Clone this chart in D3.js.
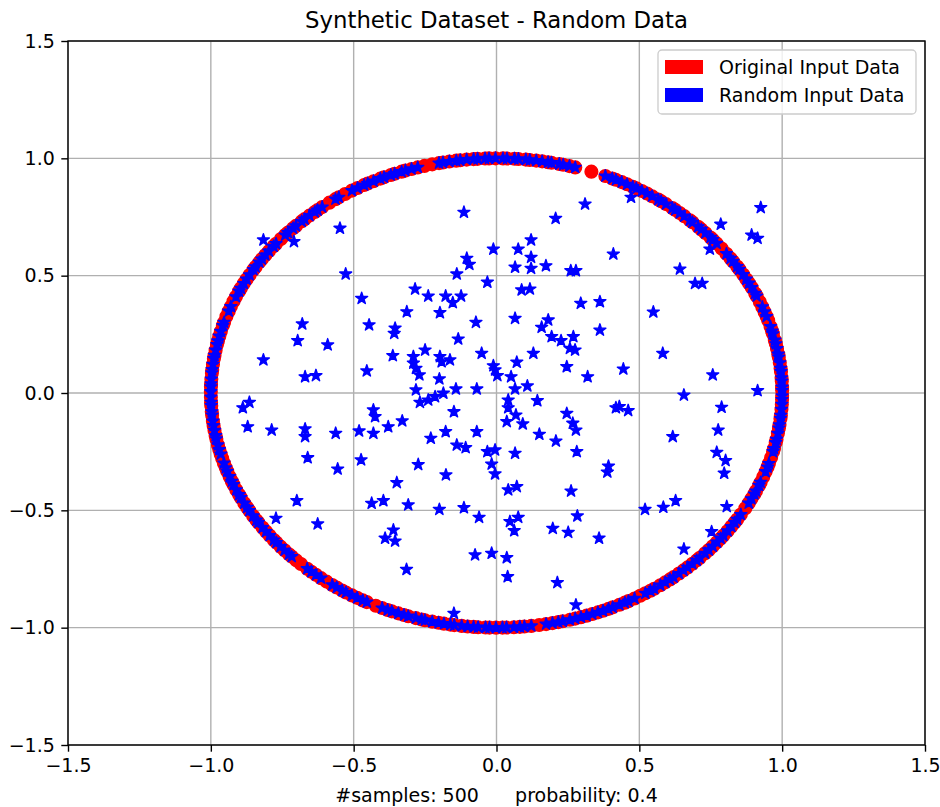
<!DOCTYPE html>
<html><head><meta charset="utf-8">
<script src="https://cdn.jsdelivr.net/npm/d3@7/dist/d3.min.js"></script>
<style>body{margin:0;background:#fff} text{font-family:"DejaVu Sans",sans-serif}</style>
</head><body>
<svg id="chart" width="940" height="807"></svg>
<script>
const xTicks = [-1.5, -1.0, -0.5, 0.0, 0.5, 1.0, 1.5];
const yTicks = [-1.5, -1.0, -0.5, 0.0, 0.5, 1.0, 1.5];
const titleText = "Synthetic Dataset - Random Data";
const xLabelText = "#samples: 500      probability: 0.4";
const legendLabels = ["Original Input Data", "Random Input Data"];

// angles (degrees) of unit-circle points kept unchanged in the random data (blue stars on the ring)
const ringStarAngles = [
0.6,1.4,2.9,3.7,5.2,6.0,7.4,8.8,9.5,
10.9,12.1,13.0,14.6,15.3,16.4,19.0,
20.2,21.5,24.4,25.1,26.7,27.9,29.0,
30.3,31.8,32.6,34.1,35.0,36.4,39.6,
40.8,41.5,43.0,44.2,45.1,46.7,47.4,48.9,
50.1,51.3,52.0,53.6,54.8,55.5,57.0,58.2,59.4,
60.7,61.5,62.8,64.0,65.3,66.1,67.6,
74.0,75.2,76.5,77.3,78.9,79.6,
80.8,82.0,83.3,84.1,85.6,86.4,87.9,88.7,
90.2,91.5,92.3,93.8,94.6,96.0,97.3,98.1,99.5,
100.8,101.6,106.0,107.3,108.6,109.4,
110.9,111.7,113.2,114.0,115.5,116.8,117.6,119.1,
120.4,123.5,124.3,127.6,128.8,129.5,
130.9,132.2,133.0,134.6,135.4,136.9,137.7,140.5,
141.3,142.8,144.0,145.2,146.1,147.5,148.3,149.8,
151.0,152.2,153.5,154.3,155.8,158.4,159.6,
162.5,163.3,164.8,166.0,167.2,168.1,169.5,
170.8,171.6,173.0,174.3,175.1,176.6,177.8,178.5,179.7,
181.0,182.3,183.1,184.6,185.4,186.9,188.0,189.2,
190.5,191.3,192.8,194.0,195.1,197.4,198.6,199.5,
200.9,202.1,203.0,204.4,205.7,206.5,208.0,209.2,
210.1,211.6,212.8,213.5,215.0,216.2,217.4,218.8,219.6,
220.9,222.1,223.4,224.2,228.5,229.6,
230.8,232.1,234.9,236.0,237.3,238.2,239.6,
240.8,242.1,243.0,246.4,247.6,248.5,249.9,
251.1,252.0,253.6,254.8,255.5,257.0,258.3,259.4,
260.7,261.5,263.0,264.2,265.4,266.3,267.8,268.6,269.9,
271.2,272.0,273.5,274.7,275.6,277.0,280.0,
281.3,282.5,283.4,284.9,286.0,287.2,288.4,289.6,
290.8,291.9,293.1,294.0,295.5,296.7,297.5,298.9,
301.4,302.6,303.5,305.0,306.2,307.4,308.3,309.7,
310.9,312.0,313.3,314.5,315.4,316.9,318.0,319.2,
320.5,321.7,322.6,324.0,325.3,326.5,327.4,328.8,
332.0,333.2,334.5,335.3,336.8,337.6,340.4,
341.6,342.5,345.5,346.3,347.8,348.6,
350.1,351.4,352.2,353.7,354.5,356.0,357.2,358.4,359.3
];
// angles (degrees) of unit-circle points that were replaced (visible as red only)
const replacedAngles = [18.0,22.8,38.0,70.6,103.0,104.6,122.0,125.8,139.0,157.0,161.0,196.2,225.5,226.8,233.5,245.0,278.6,300.2,330.6,339.0,344.0];

// random points inside the circle [x, y]
const interiorStars = [
[-0.816,0.652],[-0.709,0.645],[-0.548,0.702],[-0.528,0.507],[-0.472,0.403],
[-0.114,0.770],[0.207,0.744],[-0.011,0.613],[-0.104,0.574],[-0.095,0.548],[-0.139,0.507],[-0.032,0.472],[0.076,0.613],[0.121,0.652],[0.121,0.578],[0.065,0.536],[0.121,0.531],[0.173,0.542],[0.260,0.521],[0.278,0.521],[-0.285,0.443],[-0.239,0.413],[-0.178,0.413],[-0.124,0.413],[-0.153,0.385],[0.088,0.439],[0.117,0.443],[-0.314,0.346],[-0.198,0.342],[0.295,0.382],
[0.310,0.805],[0.471,0.834],[0.409,0.592],[0.642,0.528],[0.695,0.467],[0.720,0.467],[0.362,0.389],[0.549,0.345],[0.785,0.719],[0.925,0.790],[0.893,0.673],[0.914,0.659],[0.747,0.613],
[-0.680,0.294],[-0.696,0.223],[-0.591,0.205],[-0.816,0.141],[-0.670,0.069],[-0.632,0.074],[-0.446,0.290],[-0.355,0.276],[-0.358,0.254],[-0.363,0.159],[-0.454,0.094],[-0.888,-0.063],[-0.865,-0.040],[-0.871,-0.144],[-0.787,-0.158],[-0.670,-0.153],[-0.670,-0.186],[-0.563,-0.172],[-0.481,-0.162],[-0.431,-0.072],[-0.425,-0.101],[-0.431,-0.172],[-0.379,-0.144],[-0.330,-0.119],[-0.661,-0.276],[-0.474,-0.285],
[0.065,0.318],[-0.072,0.301],[0.181,0.311],[0.158,0.280],[0.269,0.240],[0.226,0.223],[0.193,0.240],[0.257,0.190],[0.275,0.183],[-0.134,0.230],[-0.250,0.183],[-0.291,0.155],[-0.291,0.127],[-0.282,0.105],[-0.270,0.077],[-0.198,0.155],[-0.192,0.133],[-0.163,0.141],[-0.052,0.169],[-0.011,0.116],[-0.005,0.098],[0.003,0.074],[0.071,0.131],[0.129,0.169],[0.246,0.112],[-0.200,0.060],[0.051,0.069],[-0.282,0.013],[-0.142,0.017],[-0.069,0.017],[0.065,0.017],[0.108,0.030],[-0.268,-0.040],[-0.239,-0.030],[-0.215,-0.016],[-0.186,-0.001],[0.041,-0.030],[0.041,-0.063],[0.143,-0.033],[0.068,-0.094],[0.036,-0.122],[0.092,-0.132],[-0.149,-0.080],[0.246,-0.087],[0.267,-0.129],[0.278,-0.158],[-0.178,-0.165],[-0.069,-0.165],[-0.230,-0.193],[0.150,-0.176],[0.208,-0.205],[-0.139,-0.222],[-0.108,-0.233],[-0.032,-0.250],[-0.005,-0.243],[0.065,-0.257],[0.281,-0.250],[-0.274,-0.305],[-0.017,-0.303],
[0.362,0.268],[0.582,0.169],[0.444,0.102],[0.319,0.069],[0.757,0.077],[0.914,0.010],[0.656,-0.009],[0.418,-0.063],[0.430,-0.058],[0.461,-0.075],[0.788,-0.061],[0.617,-0.186],[0.776,-0.158],[0.771,-0.253],[0.802,-0.288],
[-0.556,-0.324],[-0.349,-0.382],[-0.699,-0.459],[-0.437,-0.470],[-0.396,-0.459],[-0.772,-0.534],[-0.626,-0.558],[-0.361,-0.584],[-0.390,-0.619],[-0.355,-0.631],[-0.315,-0.752],
[-0.005,-0.345],[-0.177,-0.349],[0.041,-0.413],[0.071,-0.399],[0.261,-0.418],[-0.309,-0.477],[-0.200,-0.496],[-0.114,-0.489],[-0.061,-0.530],[0.047,-0.548],[0.076,-0.530],[0.062,-0.587],[0.197,-0.577],[0.251,-0.594],[0.283,-0.524],[-0.075,-0.690],[-0.017,-0.683],[0.036,-0.702],[0.039,-0.783],[0.213,-0.808],[-0.149,-0.939],[0.278,-0.903],
[0.392,-0.312],[0.388,-0.337],[0.797,-0.342],[0.520,-0.496],[0.584,-0.487],[0.627,-0.459],[0.806,-0.484],[0.359,-0.619],[0.753,-0.591],[0.656,-0.665]
];

const toXY = a => [Math.cos(a * Math.PI / 180), Math.sin(a * Math.PI / 180)];
const originalData = ringStarAngles.concat(replacedAngles).map(toXY);
const randomData = ringStarAngles.map(toXY).concat(interiorStars);

const W = 940, H = 807;
const m = {left: 68, right: 925, top: 41, bottom: 745};
const svg = d3.select("#chart");
svg.append("rect").attr("width", W).attr("height", H).attr("fill", "#fff");

const x = d3.scaleLinear().domain([-1.5, 1.5]).range([m.left, m.right]);
const y = d3.scaleLinear().domain([-1.5, 1.5]).range([m.bottom, m.top]);
const fmt = d => d3.format(".1f")(d).replace("-", "\u2212");
const FS = 19;

// grid
const grid = svg.append("g");
grid.selectAll(".gx").data(xTicks).join("line")
  .attr("x1", d => x(d)).attr("x2", d => x(d)).attr("y1", m.top).attr("y2", m.bottom)
  .attr("stroke", "#b0b0b0").attr("stroke-width", 1.4);
grid.selectAll(".gy").data(yTicks).join("line")
  .attr("y1", d => y(d)).attr("y2", d => y(d)).attr("x1", m.left).attr("x2", m.right)
  .attr("stroke", "#b0b0b0").attr("stroke-width", 1.4);

// red circles (original)
svg.append("g").selectAll("circle").data(originalData).join("circle")
  .attr("cx", d => x(d[0])).attr("cy", d => y(d[1])).attr("r", 6.3)
  .attr("fill", "#ff0000").attr("stroke", "#ff0000").attr("stroke-width", 1.5);

// blue stars (random)
function starPath(R) {
  const pts = [];
  for (let i = 0; i < 10; i++) {
    const r = i % 2 ? R * 0.381966 : R;
    const a = -Math.PI / 2 + i * Math.PI / 5;
    pts.push([r * Math.cos(a), r * Math.sin(a)]);
  }
  return "M" + pts.map(p => p[0].toFixed(2) + "," + p[1].toFixed(2)).join("L") + "Z";
}
const star = starPath(6.3);
svg.append("g").selectAll("path").data(randomData).join("path")
  .attr("d", star).attr("transform", d => `translate(${x(d[0])},${y(d[1])})`)
  .attr("fill", "#0000ff").attr("stroke", "#0000ff").attr("stroke-width", 1.4).attr("stroke-linejoin", "round");

// axes
const xAxis = d3.axisBottom(x).tickValues(xTicks).tickFormat(fmt).tickSize(6.7).tickPadding(6.5);
const yAxis = d3.axisLeft(y).tickValues(yTicks).tickFormat(fmt).tickSize(6.7).tickPadding(6.5);
const gx = svg.append("g").attr("transform", `translate(0,${m.bottom})`).call(xAxis);
const gy = svg.append("g").attr("transform", `translate(${m.left},0)`).call(yAxis);
[gx, gy].forEach(g => {
  g.select(".domain").remove();
  g.selectAll(".tick line").attr("stroke", "#000").attr("stroke-width", 1.4);
  g.selectAll(".tick text").attr("fill", "#000").attr("font-size", FS).attr("font-family", "DejaVu Sans");
});
// frame
svg.append("rect").attr("x", m.left).attr("y", m.top).attr("width", m.right - m.left).attr("height", m.bottom - m.top)
  .attr("fill", "none").attr("stroke", "#000").attr("stroke-width", 1.4);

// title & xlabel
svg.append("text").attr("x", (m.left + m.right) / 2).attr("y", 28).attr("text-anchor", "middle")
  .attr("font-size", 22.8).attr("fill", "#000").text(titleText);
svg.append("text").attr("x", (m.left + m.right) / 2).attr("y", 802).attr("text-anchor", "middle")
  .attr("font-size", FS).attr("fill", "#000").style("white-space", "pre").text(xLabelText);

// legend
const lg = svg.append("g");
lg.append("rect").attr("x", 658).attr("y", 50).attr("width", 258).attr("height", 64).attr("rx", 4)
  .attr("fill", "#fff").attr("fill-opacity", 0.8).attr("stroke", "#cccccc").attr("stroke-width", 1.3);
const legendColors = ["#ff0000", "#0000ff"];
legendLabels.forEach((t, i) => {
  const cy = 67 + i * 28;
  lg.append("rect").attr("x", 665).attr("y", cy - 7).attr("width", 38).attr("height", 14).attr("fill", legendColors[i]);
  lg.append("text").attr("x", 719).attr("y", cy).attr("dominant-baseline", "central")
    .attr("font-size", FS).attr("fill", "#000").text(t);
});
</script>
</body></html>
